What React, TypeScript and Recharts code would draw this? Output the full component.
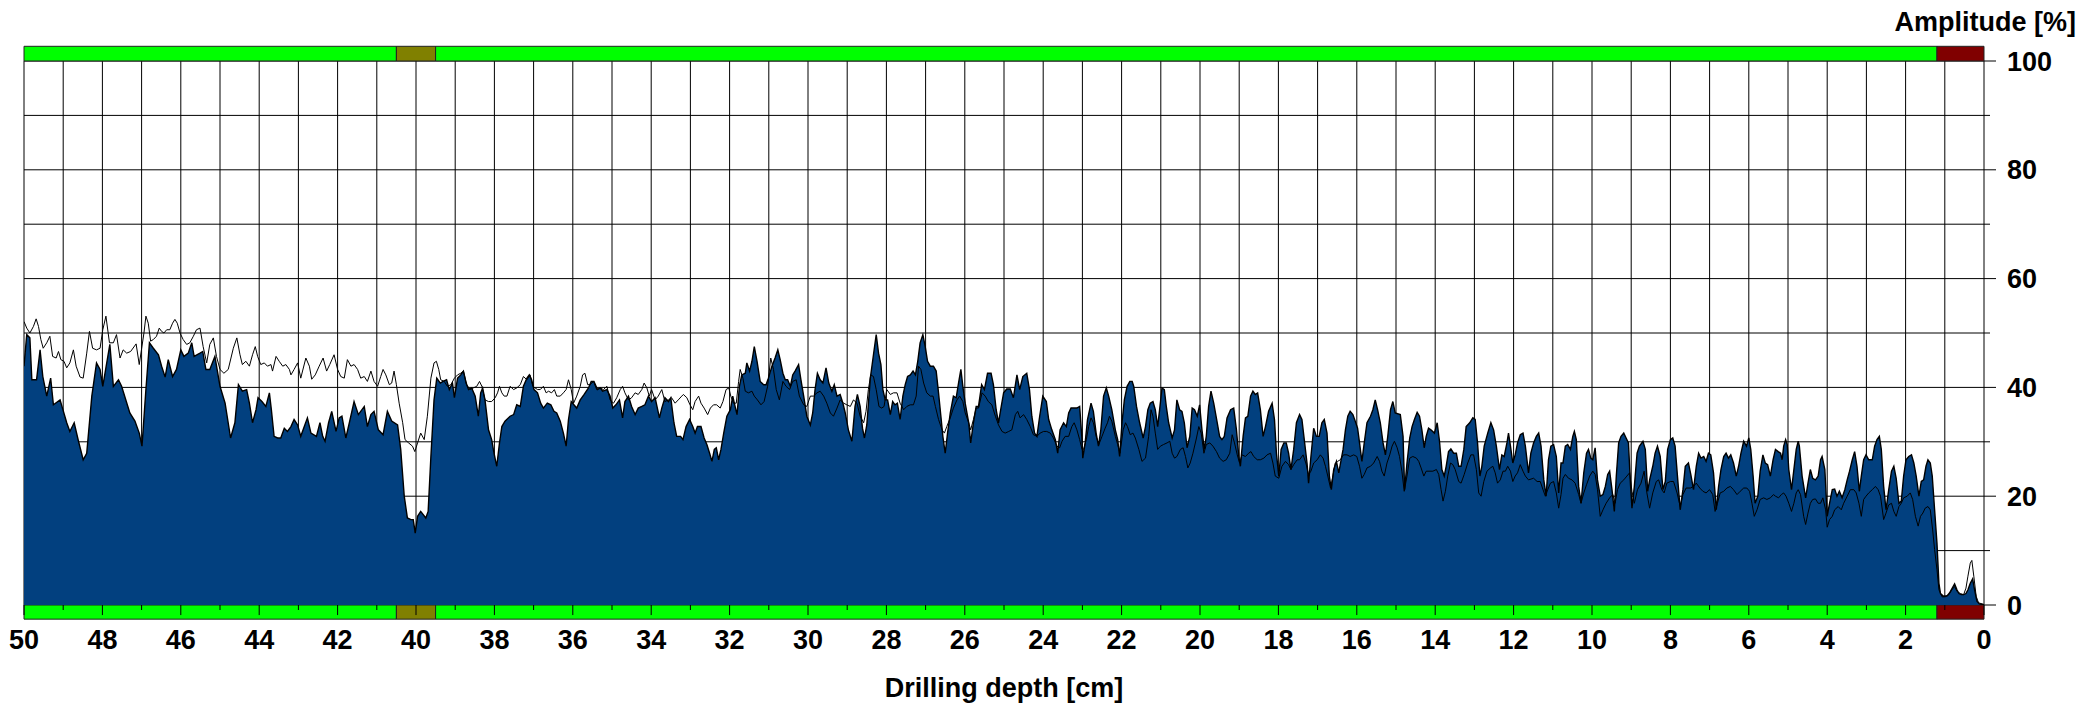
import {
  ComposedChart, Area, Line, XAxis, YAxis, CartesianGrid, ReferenceArea, ReferenceLine,
} from "recharts";

// depth ticks run right-to-left: 50 cm at the left edge, 0 cm at the right
const depthTicks = [
  50, 49, 48, 47, 46, 45, 44, 43, 42, 41, 40, 39, 38, 37, 36, 35, 34, 33, 32, 31, 30,
  29, 28, 27, 26, 25, 24, 23, 22, 21, 20, 19, 18, 17, 16, 15, 14, 13, 12, 11, 10,
  9, 8, 7, 6, 5, 4, 3, 2, 1, 0,
];
const amplitudeTicks = [0, 10, 20, 30, 40, 50, 60, 70, 80, 90, 100];

// drilling amplitude (filled curve): [depth cm, amplitude %]
const drillCurve: [number, number][] = [
  [50.00, 43.9], [49.93, 49.7], [49.85, 49.1], [49.80, 41.4], [49.68, 41.4], [49.59, 46.9], [49.52, 42.0],
  [49.42, 38.4], [49.32, 41.7], [49.25, 36.8], [49.08, 37.7], [48.91, 33.5], [48.83, 31.9], [48.72, 33.5],
  [48.61, 30.1], [48.49, 26.7], [48.40, 27.9], [48.27, 38.4], [48.15, 44.5], [48.06, 43.3], [47.99, 40.2],
  [47.81, 47.9], [47.72, 40.2], [47.59, 41.4], [47.51, 40.2], [47.30, 35.3], [47.17, 33.8], [47.06, 31.6],
  [46.99, 29.2], [46.89, 39.6], [46.80, 48.2], [46.70, 47.2], [46.57, 46.0], [46.49, 43.9], [46.40, 41.9],
  [46.32, 45.1], [46.21, 42.0], [46.11, 43.3], [46.00, 46.9], [45.92, 45.7], [45.81, 46.3], [45.72, 48.2],
  [45.66, 45.7], [45.51, 46.3], [45.44, 46.6], [45.36, 43.3], [45.26, 43.3], [45.13, 45.7], [45.00, 40.2],
  [44.87, 37.1], [44.73, 30.7], [44.62, 33.5], [44.53, 40.5],
  [44.43, 39.3], [44.32, 39.6], [44.25, 37.1], [44.17, 33.5], [44.08, 35.9], [44.03, 38.1], [43.93, 37.4],
  [43.83, 36.5], [43.74, 39.0], [43.69, 35.9], [43.62, 31.0], [43.53, 30.7], [43.45, 30.7], [43.36, 32.5],
  [43.28, 31.9], [43.19, 32.8], [43.11, 34.1], [43.02, 33.1], [42.94, 31.0], [42.85, 32.8], [42.77, 34.4],
  [42.68, 31.6], [42.54, 31.0], [42.45, 33.5], [42.38, 31.0], [42.32, 30.1], [42.23, 33.5], [42.15, 35.6],
  [42.04, 31.9], [41.96, 34.4], [41.89, 34.7], [41.79, 30.7], [41.70, 33.5], [41.58, 37.4], [41.47, 35.0],
  [41.32, 36.5], [41.24, 32.8], [41.15, 35.0], [41.07, 35.6], [40.96, 32.2], [40.84, 31.3], [40.73, 35.6],
  [40.62, 33.8], [40.47, 33.1], [40.39, 28.6], [40.30, 20.0], [40.22, 16.0], [40.13, 15.7], [40.07, 15.7],
  [40.02, 13.2], [39.96, 16.3], [39.88, 17.2], [39.75, 16.0], [39.69, 17.2], [39.62, 27.3], [39.54, 37.7],
  [39.47, 41.7], [39.38, 40.8], [39.31, 41.1], [39.22, 41.4], [39.15, 39.6], [39.07, 40.8], [39.02, 38.1],
  [38.94, 41.7], [38.86, 42.3],
  [38.79, 43.0], [38.72, 40.8], [38.66, 39.6], [38.58, 39.9], [38.49, 38.4], [38.41, 34.7], [38.35, 39.0],
  [38.30, 39.9], [38.24, 37.7], [38.15, 32.2], [38.07, 30.4], [38.01, 27.9], [37.94, 25.5], [37.87, 29.8],
  [37.81, 32.8], [37.73, 33.8], [37.60, 34.7], [37.51, 35.0], [37.43, 36.8], [37.34, 36.5], [37.26, 40.2],
  [37.17, 41.7], [37.11, 42.3], [37.05, 41.4], [36.99, 39.6], [36.90, 39.0], [36.82, 37.1], [36.75, 36.2],
  [36.65, 37.1], [36.56, 36.8], [36.48, 35.6], [36.41, 35.3], [36.32, 33.8], [36.24, 31.6], [36.17, 29.2],
  [36.11, 34.1], [36.04, 37.4], [35.90, 36.2], [35.81, 37.7], [35.71, 38.7], [35.60, 39.9], [35.53, 41.1],
  [35.46, 41.1], [35.37, 39.6], [35.30, 39.9], [35.24, 39.3], [35.13, 39.6], [35.05, 38.4], [34.98, 36.2],
  [34.90, 36.8], [34.81, 37.7], [34.73, 34.4], [34.67, 37.4], [34.58, 38.4], [34.50, 36.5], [34.41, 35.0],
  [34.33, 36.2], [34.24, 36.5], [34.16, 36.8], [34.07, 38.4], [33.99, 37.4], [33.90, 38.1], [33.79, 34.4],
  [33.73, 36.2], [33.65, 38.1], [33.56, 37.4], [33.50, 38.1], [33.42, 33.5], [33.35, 31.0], [33.25, 31.0],
  [33.19, 30.4], [33.11, 32.8], [33.02, 34.1], [32.94, 32.8], [32.88, 31.6], [32.82, 32.8], [32.73, 32.8],
  [32.65, 30.7], [32.58, 29.5], [32.51, 27.9], [32.45, 26.4], [32.39, 28.6], [32.34, 28.9], [32.28, 26.7],
  [32.22, 28.6], [32.15, 31.6], [32.07, 34.7], [31.98, 35.9], [31.92, 38.4], [31.86, 36.5], [31.81, 35.0],
  [31.75, 40.2], [31.69, 42.3], [31.60, 42.6], [31.56, 44.5], [31.49, 43.0], [31.43, 44.8], [31.37, 47.5],
  [31.30, 44.8], [31.22, 41.1], [31.13, 40.5], [31.07, 40.5], [31.01, 41.7], [30.92, 43.9], [30.84, 45.4],
  [30.77, 46.9], [30.71, 45.1], [30.64, 42.6], [30.58, 41.4], [30.52, 41.4], [30.45, 40.2], [30.39, 42.3],
  [30.33, 43.0], [30.24, 44.2], [30.18, 41.4], [30.11, 38.4], [30.03, 34.7], [29.94, 33.1], [29.88, 35.3],
  [29.82, 39.6], [29.76, 42.6], [29.69, 41.4], [29.62, 40.8], [29.54, 43.6], [29.47, 40.8], [29.39, 39.3],
  [29.33, 40.5], [29.26, 38.4], [29.18, 38.7], [29.11, 37.1], [29.05, 35.3], [28.97, 32.2], [28.88, 30.1],
  [28.80, 36.5], [28.74, 38.7], [28.67, 36.5], [28.61, 32.5], [28.56, 30.7], [28.50, 33.1], [28.41, 41.7],
  [28.33, 46.0], [28.26, 49.7], [28.20, 46.3], [28.14, 44.2], [28.09, 39.6], [28.03, 37.7], [27.97, 37.7],
  [27.90, 35.0], [27.84, 37.4], [27.78, 36.8], [27.72, 37.1], [27.65, 34.1],
  [27.58, 38.4], [27.52, 40.5], [27.46, 42.0], [27.39, 42.3], [27.32, 43.0], [27.26, 42.3], [27.20, 44.8],
  [27.14, 48.2], [27.07, 49.7], [27.01, 47.5], [26.95, 44.8], [26.88, 43.9], [26.80, 43.9], [26.73, 43.0],
  [26.67, 39.0], [26.61, 34.7], [26.56, 31.0], [26.50, 27.9], [26.44, 31.6], [26.37, 35.3], [26.29, 38.4],
  [26.22, 38.1], [26.16, 40.8], [26.10, 43.3], [26.05, 40.2], [25.99, 37.1], [25.90, 33.5], [25.85, 29.8],
  [25.78, 33.5], [25.71, 36.5], [25.65, 36.5], [25.57, 40.5], [25.50, 39.6], [25.42, 42.6], [25.33, 42.6],
  [25.27, 40.5], [25.20, 35.9], [25.14, 33.5], [25.07, 36.5], [25.01, 39.0], [24.93, 39.7], [24.84, 39.7],
  [24.76, 38.1], [24.67, 42.3], [24.60, 39.6], [24.52, 42.0], [24.42, 42.6], [24.35, 39.6], [24.29, 34.7],
  [24.22, 31.6], [24.16, 31.0], [24.09, 34.7], [24.01, 38.4], [23.92, 37.4], [23.86, 34.1], [23.78, 32.2],
  [23.69, 30.4], [23.63, 27.9], [23.57, 32.2], [23.48, 33.5], [23.41, 32.8], [23.35, 35.3], [23.29, 36.2],
  [23.14, 36.2], [23.07, 36.5], [23.01, 30.4], [22.99, 27.0], [22.93, 29.8], [22.87, 34.1], [22.78, 37.1],
  [22.72, 35.6], [22.65, 31.6], [22.59, 29.2], [22.53, 32.2], [22.46, 38.4], [22.39, 39.9], [22.33, 38.4],
  [22.25, 35.9], [22.16, 32.2], [22.10, 30.4], [22.05, 27.3],
  [21.99, 33.5], [21.93, 37.7], [21.86, 40.2], [21.79, 41.1], [21.73, 41.1], [21.69, 40.2], [21.62, 36.5],
  [21.54, 33.5], [21.45, 30.7], [21.39, 32.8], [21.33, 35.9], [21.27, 37.1], [21.20, 37.4], [21.14, 35.9],
  [21.08, 32.8], [21.03, 35.9], [20.97, 39.9], [20.91, 39.6], [20.86, 36.5], [20.80, 33.5], [20.71, 30.7],
  [20.65, 32.2], [20.59, 37.7], [20.52, 35.9], [20.46, 35.6], [20.40, 33.5], [20.33, 28.9], [20.26, 31.0],
  [20.20, 36.2], [20.14, 35.9], [20.07, 34.7], [20.01, 36.8], [19.95, 32.2], [19.89, 28.6], [19.84, 31.0],
  [19.78, 36.5], [19.72, 39.3], [19.65, 37.1], [19.56, 33.5], [19.50, 31.0], [19.44, 30.4], [19.38, 31.0],
  [19.31, 34.4], [19.22, 35.9], [19.14, 36.2], [19.07, 32.2], [19.01, 27.3], [18.97, 25.5], [18.90, 31.0],
  [18.84, 34.4], [18.78, 34.7], [18.71, 38.4], [18.65, 39.3], [18.59, 38.7], [18.53, 39.0], [18.46, 35.9],
  [18.39, 31.0], [18.33, 32.8], [18.25, 35.6], [18.16, 37.1], [18.10, 34.1], [18.05, 27.9], [17.99, 23.7],
  [17.93, 28.6], [17.86, 29.8], [17.80, 29.8], [17.74, 27.9], [17.68, 24.9], [17.61, 28.6], [17.54, 33.5],
  [17.46, 35.0], [17.40, 34.1], [17.34, 30.4], [17.27, 26.1], [17.23, 22.4], [17.17, 27.3], [17.10, 32.5],
  [17.03, 31.0], [16.96, 31.0], [16.89, 33.5], [16.83, 34.1], [16.76, 31.6], [16.70, 23.7], [16.65, 21.2],
  [16.59, 24.9], [16.52, 26.4], [16.46, 24.3], [16.40, 26.7],
  [16.35, 28.6], [16.29, 32.2], [16.23, 34.7], [16.17, 35.6], [16.10, 35.0], [16.04, 33.8], [15.98, 32.5],
  [15.93, 29.8], [15.87, 26.4], [15.81, 29.8], [15.74, 33.5], [15.65, 34.7], [15.59, 35.9], [15.53, 37.7],
  [15.47, 35.9], [15.40, 33.5], [15.33, 29.8], [15.27, 27.6], [15.21, 31.0], [15.14, 35.9], [15.08, 37.4],
  [15.02, 35.3], [14.89, 35.0], [14.82, 31.0], [14.78, 21.2], [14.72, 26.1], [14.65, 30.7], [14.59, 32.8],
  [14.53, 34.1], [14.46, 35.4], [14.40, 34.7], [14.34, 32.2], [14.28, 28.9], [14.23, 31.0], [14.17, 32.5],
  [14.11, 32.2], [14.02, 31.6], [13.95, 33.5], [13.89, 30.1], [13.83, 24.9], [13.77, 23.7], [13.72, 25.5],
  [13.66, 28.2], [13.60, 28.7], [13.53, 27.9], [13.46, 27.9], [13.40, 25.5], [13.34, 25.5], [13.27, 28.6],
  [13.21, 32.8], [13.12, 33.5], [13.04, 34.4], [12.98, 34.1], [12.92, 29.8], [12.86, 23.7], [12.81, 25.5],
  [12.75, 29.2], [12.66, 31.6], [12.58, 33.5], [12.51, 32.2], [12.44, 29.2], [12.36, 24.9], [12.30, 27.6],
  [12.24, 27.3], [12.17, 29.8], [12.13, 31.6], [12.08, 29.2], [12.02, 26.1], [11.96, 27.6], [11.90, 29.8],
  [11.83, 31.3], [11.76, 31.6], [11.70, 29.2], [11.62, 24.3], [11.56, 27.9], [11.49, 29.8], [11.42, 31.0],
  [11.36, 31.6], [11.30, 29.2], [11.23, 23.0], [11.17, 20.0], [11.11, 26.7], [11.05, 29.2], [10.98, 29.5],
  [10.91, 27.3], [10.85, 20.6], [10.79, 26.1],
  [10.74, 26.1], [10.68, 29.2], [10.62, 29.5], [10.55, 28.6], [10.49, 31.0], [10.45, 31.9], [10.40, 30.4],
  [10.34, 21.8], [10.28, 18.7], [10.21, 24.3], [10.14, 27.9], [10.09, 28.6], [10.03, 27.0], [9.98, 26.7],
  [9.92, 28.9], [9.86, 23.0], [9.79, 20.0], [9.72, 20.3], [9.66, 21.8], [9.60, 24.0], [9.55, 24.6],
  [9.49, 21.2], [9.43, 17.2], [9.38, 23.7], [9.32, 29.8], [9.26, 31.0], [9.19, 31.6], [9.13, 30.7],
  [9.07, 29.8], [9.02, 22.4], [8.98, 17.8], [8.92, 21.8], [8.85, 27.9], [8.79, 29.2], [8.70, 30.1],
  [8.64, 28.6], [8.58, 20.9], [8.53, 23.0], [8.45, 25.5], [8.39, 27.9], [8.33, 29.2], [8.26, 27.3],
  [8.19, 21.2], [8.13, 22.7], [8.07, 28.6], [8.00, 30.4], [7.94, 30.7], [7.88, 29.2], [7.82, 23.7],
  [7.75, 17.5], [7.68, 21.2], [7.62, 25.5], [7.54, 26.1], [7.48, 24.0], [7.41, 21.2], [7.34, 25.5],
  [7.28, 27.9], [7.22, 27.0], [7.15, 27.3], [7.09, 26.4], [7.03, 27.9], [6.97, 27.6], [6.90, 24.3],
  [6.83, 17.5], [6.77, 21.8], [6.71, 24.9], [6.64, 27.3], [6.58, 27.9], [6.52, 27.0], [6.46, 27.6],
  [6.39, 26.1], [6.32, 23.7], [6.26, 25.5], [6.20, 27.9], [6.13, 30.1], [6.06, 29.2], [6.00, 30.7],
  [5.95, 28.6], [5.89, 23.7], [5.84, 18.7], [5.77, 20.0], [5.71, 24.6], [5.64, 27.6], [5.58, 26.1],
  [5.52, 25.8], [5.45, 23.7], [5.38, 26.7],
  [5.32, 28.6], [5.25, 28.2], [5.19, 27.9], [5.15, 26.7], [5.11, 29.2], [5.06, 30.4], [5.02, 29.5],
  [4.98, 24.9], [4.91, 21.2], [4.85, 24.9], [4.79, 28.6], [4.74, 30.1], [4.71, 29.2], [4.64, 23.7],
  [4.55, 19.7], [4.49, 22.4], [4.43, 24.9], [4.37, 23.3], [4.30, 23.0], [4.23, 23.7], [4.17, 26.7],
  [4.13, 27.3], [4.06, 24.9], [4.00, 16.3], [3.94, 18.7], [3.87, 21.2], [3.81, 21.3], [3.75, 20.0],
  [3.69, 20.9], [3.62, 19.7], [3.55, 21.2], [3.49, 23.0], [3.43, 24.6], [3.36, 26.7], [3.30, 28.2],
  [3.24, 25.5], [3.18, 20.9], [3.13, 23.7], [3.07, 26.7], [3.01, 27.6], [2.94, 26.7], [2.85, 26.7],
  [2.79, 29.2], [2.73, 30.4], [2.67, 31.0], [2.62, 28.6], [2.56, 21.8], [2.50, 17.5], [2.43, 21.2],
  [2.36, 24.6], [2.30, 25.5], [2.24, 23.3], [2.17, 18.7], [2.11, 19.1], [2.05, 23.7], [1.99, 26.7],
  [1.92, 27.3], [1.85, 27.6], [1.79, 26.1], [1.73, 23.7], [1.66, 20.0], [1.60, 22.7], [1.54, 23.0],
  [1.48, 25.5], [1.43, 26.7], [1.37, 26.1], [1.32, 23.7], [1.26, 17.5], [1.20, 11.4], [1.15, 4.0],
  [1.11, 2.1], [1.03, 1.6], [0.94, 1.7], [0.88, 2.2], [0.81, 3.1], [0.75, 3.9], [0.69, 2.8], [0.64, 2.1],
  [0.58, 1.9], [0.52, 1.9], [0.46, 2.1], [0.41, 2.8], [0.35, 4.0], [0.29, 4.8], [0.24, 2.8], [0.18, 0.7],
  [0.12, 0.2], [0.05, 0.1], [0, 0],
];

// feed amplitude (thin line): [depth cm, amplitude %]
const feedCurve: [number, number][] = [
  [50.00, 52.1], [49.93, 50.9], [49.85, 50.0], [49.76, 51.2], [49.69, 52.6], [49.63, 51.2], [49.57, 48.8],
  [49.51, 47.2], [49.42, 48.2], [49.34, 49.4], [49.27, 45.7], [49.18, 45.4], [49.12, 46.6], [49.06, 45.1],
  [48.98, 44.8], [48.91, 43.6], [48.83, 44.5], [48.74, 46.9], [48.67, 43.9], [48.57, 41.9], [48.49, 41.7],
  [48.40, 46.3], [48.33, 50.3], [48.25, 47.2], [48.15, 46.9], [48.06, 47.2], [47.99, 50.6], [47.91, 53.1],
  [47.82, 48.2], [47.72, 48.2], [47.64, 49.7], [47.55, 45.4], [47.47, 46.9], [47.38, 46.3], [47.28, 46.6],
  [47.14, 48.0], [47.06, 44.2], [46.94, 50.0], [46.89, 53.1], [46.83, 51.8], [46.77, 48.5], [46.70, 48.8],
  [46.62, 49.4], [46.55, 50.9], [46.49, 50.3], [46.43, 50.0], [46.36, 50.6], [46.28, 50.6], [46.21, 51.8],
  [46.15, 52.5], [46.09, 51.8], [46.02, 50.0], [45.94, 48.8], [45.85, 47.9], [45.77, 48.2], [45.68, 49.4],
  [45.60, 50.6], [45.51, 50.9], [45.43, 47.5], [45.34, 44.5], [45.26, 47.9], [45.17, 49.1], [45.09, 45.7],
  [45.00, 43.3], [44.90, 42.6], [44.79, 43.3], [44.66, 47.2], [44.57, 49.1], [44.49, 46.0],
  [44.43, 44.2], [44.34, 44.8], [44.25, 43.9], [44.17, 46.0], [44.10, 47.5], [44.04, 45.7], [43.96, 44.2],
  [43.87, 44.5], [43.79, 43.9], [43.70, 44.2], [43.66, 43.0], [43.57, 45.7], [43.49, 44.8], [43.40, 43.9],
  [43.32, 44.2], [43.23, 43.3], [43.19, 42.3], [43.11, 43.3], [43.02, 44.5], [42.94, 41.7], [42.81, 45.4],
  [42.72, 43.9], [42.66, 41.5], [42.57, 42.3], [42.47, 43.9], [42.37, 45.4], [42.28, 43.0], [42.20, 44.2],
  [42.09, 46.0], [42.00, 43.3], [41.92, 42.0], [41.83, 41.7], [41.75, 45.1], [41.66, 43.9], [41.58, 44.2],
  [41.49, 43.3], [41.41, 41.7], [41.32, 42.0], [41.24, 41.1], [41.15, 43.0], [41.07, 41.1], [40.98, 40.2],
  [40.90, 42.0], [40.84, 43.3], [40.77, 42.3], [40.68, 40.5], [40.62, 40.8], [40.56, 43.0], [40.50, 40.5],
  [40.43, 37.1], [40.34, 33.5], [40.28, 30.4], [40.19, 29.8], [40.09, 29.2], [40.03, 28.2], [39.96, 29.8],
  [39.88, 31.6], [39.79, 30.4], [39.71, 34.7], [39.62, 41.7], [39.54, 44.5], [39.48, 44.8], [39.42, 43.3],
  [39.37, 41.4], [39.28, 41.1], [39.20, 40.2], [39.11, 40.5], [39.02, 41.7], [38.94, 42.3], [38.86, 42.6],
  [38.79, 43.0], [38.71, 40.5], [38.62, 39.6], [38.54, 39.9], [38.45, 40.2], [38.38, 41.1], [38.32, 40.2],
  [38.24, 37.7], [38.15, 37.4], [38.07, 37.4], [37.98, 38.1], [37.92, 39.0], [37.87, 40.2], [37.81, 39.0],
  [37.75, 38.4], [37.68, 38.4], [37.60, 40.2], [37.51, 39.6], [37.43, 39.9], [37.34, 40.5], [37.26, 42.0],
  [37.17, 41.4], [37.09, 42.3], [37.02, 40.2], [36.90, 39.6], [36.83, 39.6], [36.75, 40.2], [36.68, 39.0],
  [36.62, 39.3], [36.54, 39.0], [36.47, 39.6], [36.41, 38.4], [36.32, 38.4], [36.24, 39.0], [36.17, 39.6],
  [36.11, 41.4], [36.04, 39.6], [35.98, 37.1], [35.90, 38.4], [35.81, 40.2], [35.75, 42.3], [35.69, 42.6],
  [35.62, 40.5], [35.56, 40.5], [35.47, 41.1], [35.39, 39.6], [35.30, 39.9], [35.22, 39.6], [35.13, 40.2],
  [35.05, 37.7], [34.96, 37.1], [34.88, 38.1], [34.79, 39.6], [34.73, 40.2], [34.67, 39.0], [34.58, 37.7],
  [34.50, 38.1], [34.41, 39.0], [34.33, 38.7], [34.24, 39.6], [34.18, 40.8], [34.11, 39.9], [34.05, 38.4],
  [33.99, 39.6], [33.90, 37.7], [33.82, 38.4], [33.73, 39.6], [33.65, 37.4], [33.56, 37.7], [33.48, 38.1],
  [33.39, 37.1], [33.31, 37.7], [33.22, 38.4],
  [33.18, 38.7], [33.09, 38.1], [33.01, 36.8], [32.94, 35.9], [32.88, 37.4], [32.79, 38.4], [32.73, 37.1],
  [32.65, 36.2], [32.56, 35.0], [32.49, 36.2], [32.41, 36.8], [32.33, 36.8], [32.24, 36.2], [32.17, 37.4],
  [32.09, 39.6], [32.02, 39.9], [31.97, 38.4], [31.90, 37.1], [31.83, 37.1], [31.77, 41.1], [31.73, 43.3],
  [31.66, 41.7], [31.60, 39.3], [31.52, 39.0], [31.43, 39.3], [31.37, 38.4], [31.29, 37.7], [31.20, 36.8],
  [31.12, 37.4], [31.03, 40.2], [30.95, 45.4], [30.88, 43.3], [30.81, 39.6], [30.73, 37.7], [30.64, 41.1],
  [30.56, 40.2], [30.47, 39.6], [30.39, 41.1], [30.30, 41.4], [30.22, 38.4], [30.11, 36.8], [30.03, 36.5],
  [29.94, 38.4], [29.86, 38.4], [29.77, 39.0], [29.69, 39.3], [29.60, 38.4], [29.52, 37.1], [29.43, 35.3],
  [29.35, 34.7], [29.26, 36.2], [29.18, 37.7], [29.09, 37.1], [29.01, 36.8], [28.92, 36.5], [28.84, 37.7],
  [28.75, 37.1], [28.67, 34.7], [28.58, 33.5], [28.52, 35.6], [28.46, 39.6], [28.40, 42.3], [28.33, 42.0],
  [28.26, 39.6], [28.19, 36.5], [28.12, 36.2], [28.06, 36.5], [27.99, 39.6], [27.90, 38.7], [27.82, 39.0],
  [27.73, 39.0], [27.65, 37.1],
  [27.56, 35.9], [27.48, 36.5], [27.39, 36.8], [27.31, 36.8], [27.24, 38.4], [27.18, 43.9], [27.12, 43.3],
  [27.05, 40.8], [26.97, 39.0], [26.88, 38.4], [26.81, 38.4], [26.75, 36.5], [26.67, 34.1], [26.58, 32.2],
  [26.52, 31.6], [26.46, 32.8], [26.37, 34.4], [26.29, 36.2], [26.20, 37.7], [26.13, 38.4], [26.05, 37.4],
  [25.99, 35.3], [25.90, 33.5], [25.85, 32.2], [25.78, 34.1], [25.71, 36.2], [25.65, 36.2], [25.56, 39.0],
  [25.48, 38.4], [25.40, 37.4], [25.31, 36.8], [25.22, 34.7], [25.14, 33.1], [25.05, 31.9], [24.97, 31.6],
  [24.88, 31.9], [24.80, 32.2], [24.71, 35.0], [24.65, 35.6], [24.59, 34.4], [24.50, 35.0], [24.42, 34.1],
  [24.33, 32.8], [24.25, 31.3], [24.16, 31.0], [24.08, 31.6], [23.99, 31.9], [23.91, 31.9], [23.82, 31.6],
  [23.74, 30.7], [23.65, 29.2], [23.58, 28.9], [23.52, 30.1], [23.44, 31.0], [23.35, 31.0], [23.27, 32.8],
  [23.21, 33.5], [23.14, 32.2], [23.07, 30.4], [23.01, 28.6], [22.97, 28.6], [22.90, 30.4], [22.84, 32.8],
  [22.78, 34.4], [22.72, 33.5], [22.65, 31.0], [22.58, 29.5], [22.50, 31.0], [22.42, 32.5], [22.36, 33.5],
  [22.31, 34.7], [22.25, 33.8], [22.16, 31.0], [22.10, 29.5], [22.04, 27.9],
  [21.96, 32.2], [21.90, 33.5], [21.85, 32.8], [21.78, 31.3], [21.71, 31.6], [21.65, 30.7], [21.56, 28.6],
  [21.48, 26.4], [21.39, 27.0], [21.31, 31.0], [21.25, 35.9], [21.20, 34.7], [21.14, 31.6], [21.08, 28.6],
  [21.01, 29.2], [20.93, 29.5], [20.84, 29.8], [20.77, 30.1], [20.71, 27.9], [20.65, 27.0], [20.59, 27.3],
  [20.50, 28.6], [20.43, 28.9], [20.37, 27.3], [20.31, 25.2], [20.25, 26.1], [20.18, 27.9], [20.09, 30.7],
  [20.03, 32.8], [19.97, 31.6], [19.90, 27.9], [19.84, 29.5], [19.75, 29.8], [19.67, 29.2], [19.58, 28.2],
  [19.50, 27.0], [19.41, 26.4], [19.33, 26.7], [19.24, 27.9], [19.18, 31.3], [19.12, 29.8], [19.05, 27.6],
  [18.99, 26.1], [18.93, 27.6], [18.84, 27.3], [18.76, 27.9], [18.70, 28.2], [18.63, 27.3], [18.54, 26.7],
  [18.46, 26.7], [18.37, 27.0], [18.29, 27.6], [18.20, 27.9], [18.14, 26.1], [18.08, 23.7], [17.99, 23.3],
  [17.91, 25.5], [17.82, 26.4], [17.74, 25.8], [17.68, 24.9], [17.61, 25.8], [17.52, 26.7], [17.46, 26.7],
  [17.37, 27.6], [17.30, 26.1], [17.23, 24.0], [17.17, 24.6], [17.10, 26.1], [17.01, 26.7], [16.93, 27.6],
  [16.86, 27.0], [16.80, 25.5], [16.74, 23.7], [16.67, 21.5], [16.61, 23.7], [16.55, 26.1], [16.49, 26.4],
  [16.42, 26.7],
  [16.34, 27.6], [16.25, 27.6], [16.17, 27.3], [16.08, 27.6], [16.00, 27.3], [15.93, 25.5], [15.87, 23.3],
  [15.81, 24.0], [15.74, 25.2], [15.65, 25.5], [15.57, 26.1], [15.48, 27.3], [15.42, 26.4], [15.36, 24.6],
  [15.30, 23.7], [15.23, 26.1], [15.16, 27.6], [15.10, 29.2], [15.04, 30.1], [14.97, 28.9], [14.91, 27.3],
  [14.85, 24.6], [14.79, 20.9], [14.72, 23.7], [14.65, 27.0], [14.57, 27.3], [14.48, 27.0], [14.42, 26.4],
  [14.36, 25.2], [14.29, 23.7], [14.23, 24.6], [14.06, 24.6], [13.97, 24.9], [13.91, 24.0], [13.85, 21.2],
  [13.80, 19.1], [13.74, 20.9], [13.68, 23.7], [13.61, 26.1], [13.55, 25.8], [13.49, 24.9], [13.40, 22.7],
  [13.34, 22.4], [13.26, 24.0], [13.17, 26.1], [13.09, 27.6], [13.02, 27.6], [12.95, 24.9], [12.89, 20.6],
  [12.83, 20.0], [12.76, 22.7], [12.68, 24.6], [12.59, 25.2], [12.53, 25.5], [12.47, 24.3], [12.41, 22.4],
  [12.34, 23.0], [12.27, 24.6], [12.21, 24.6], [12.15, 25.5], [12.08, 24.6], [12.02, 22.7], [11.96, 23.7],
  [11.90, 24.3], [11.83, 25.8], [11.76, 24.6], [11.70, 23.7], [11.62, 23.0], [11.49, 23.3], [11.40, 22.7],
  [11.32, 22.7], [11.25, 21.2], [11.19, 20.0], [11.13, 21.2], [11.06, 22.4], [10.98, 22.7], [10.91, 20.6],
  [10.85, 17.8], [10.79, 20.3],
  [10.74, 23.3], [10.68, 24.0], [10.60, 23.3], [10.51, 23.0], [10.43, 22.4], [10.34, 20.3], [10.28, 18.7],
  [10.21, 20.6], [10.14, 22.1], [10.06, 23.7], [9.98, 24.6], [9.92, 24.0], [9.86, 21.2], [9.79, 16.3],
  [9.72, 17.5], [9.64, 18.7], [9.55, 19.7], [9.47, 20.3], [9.41, 18.7], [9.35, 21.2], [9.28, 22.4],
  [9.19, 23.0], [9.11, 23.7], [9.04, 24.3], [8.98, 20.9], [8.92, 18.7], [8.84, 21.2], [8.75, 22.4],
  [8.67, 24.6], [8.60, 20.6], [8.53, 17.8], [8.45, 20.6], [8.36, 22.7], [8.30, 23.0], [8.22, 21.2],
  [8.16, 20.6], [8.09, 22.4], [8.00, 22.7], [7.92, 22.7], [7.83, 20.6], [7.75, 18.1], [7.68, 20.3],
  [7.60, 21.5], [7.49, 21.5], [7.41, 21.8], [7.34, 22.4], [7.25, 21.5], [7.17, 20.9], [7.09, 20.6],
  [7.00, 21.2], [6.92, 20.3], [6.86, 17.2], [6.80, 18.7], [6.73, 20.6], [6.64, 20.9], [6.56, 21.5],
  [6.47, 21.8], [6.39, 21.2], [6.30, 20.3], [6.22, 20.9], [6.13, 21.5], [6.05, 21.5], [5.98, 20.9],
  [5.92, 18.7], [5.86, 16.3], [5.79, 17.5], [5.71, 19.4], [5.62, 19.7], [5.54, 19.4], [5.45, 19.7],
  [5.37, 20.3],
  [5.32, 20.0], [5.24, 19.7], [5.17, 20.3], [5.11, 20.6], [5.05, 20.0], [4.98, 18.7], [4.91, 17.2],
  [4.85, 18.7], [4.79, 20.6], [4.74, 21.2], [4.68, 20.3], [4.60, 16.3], [4.55, 14.8], [4.49, 16.9],
  [4.43, 18.7], [4.37, 19.4], [4.30, 19.5], [4.23, 18.7], [4.17, 18.7], [4.11, 19.7], [4.04, 17.5],
  [4.00, 14.3], [3.94, 15.7], [3.87, 16.3], [3.81, 17.5], [3.72, 18.1], [3.64, 17.5], [3.58, 18.7],
  [3.49, 20.0], [3.41, 21.2], [3.32, 21.2], [3.26, 20.6], [3.19, 18.7], [3.13, 16.3], [3.07, 19.4],
  [3.01, 20.0], [2.94, 20.6], [2.85, 21.2], [2.77, 21.8], [2.70, 21.2], [2.64, 20.0], [2.56, 15.7],
  [2.50, 16.9], [2.43, 18.4], [2.36, 18.7], [2.30, 17.2], [2.24, 16.3], [2.17, 18.1], [2.11, 18.7],
  [2.05, 19.7], [1.96, 20.0], [1.88, 20.6], [1.82, 19.4], [1.75, 16.3], [1.68, 14.5], [1.62, 16.3],
  [1.56, 16.9], [1.50, 17.8], [1.43, 18.1], [1.37, 17.5], [1.31, 13.8], [1.26, 10.2], [1.20, 6.5],
  [1.15, 2.8], [1.07, 1.5], [0.99, 1.5], [0.90, 1.9], [0.82, 2.8], [0.75, 3.4], [0.69, 2.5], [0.60, 2.1],
  [0.52, 1.9], [0.46, 3.1], [0.41, 5.3], [0.35, 7.7], [0.31, 8.2], [0.26, 5.3], [0.20, 1.6], [0.14, 0.4],
  [0, 0.1],
];

// status strip along the depth axis (drawn above and below the plot)
const bandFrom = [50, 40.5, 39.5, 1.2];
const bandTo = [40.5, 39.5, 1.2, 0];
const bandStatus = ["ok", "warn", "ok", "end"];

const STATUS_COLOR: Record<string, string> = { ok: "#00ff00", warn: "#808000", end: "#800000" };
const FONT = "'Liberation Sans', Arial, Helvetica, sans-serif";
const BLUE = "#02407f";

const drillData = drillCurve.map(([d, v]) => ({ d, v }));
const feedData = feedCurve.map(([d, v]) => ({ d, v }));

function DepthTick({ x, y, payload }: any) {
  if (payload.value % 2 !== 0) return <g />;
  return (
    <text x={x} y={y + 43.5} textAnchor="middle" fontFamily={FONT} fontWeight={700} fontSize={27} fill="#000">
      {payload.value}
    </text>
  );
}

function AmpTick({ x, y, payload }: any) {
  const major = payload.value % 20 === 0;
  return (
    <g>
      <line x1={x} x2={x + (major ? 12 : 6)} y1={y} y2={y} stroke="#000" strokeWidth={1} />
      {major && (
        <text x={x + 23} y={y + 9.5} textAnchor="start" fontFamily={FONT} fontWeight={700} fontSize={27} fill="#000">
          {payload.value}
        </text>
      )}
    </g>
  );
}

export default function App() {
  return (
    <div style={{ position: "absolute", left: 0, top: 0, width: 2096, height: 705, background: "#fff" }}>
      <ComposedChart width={2096} height={705} margin={{ top: 61, right: 0, bottom: 0, left: 24 }}>
        <CartesianGrid stroke="#000" strokeWidth={1} />
        <XAxis
          dataKey="d" type="number" domain={[0, 50]} reversed allowDataOverflow
          ticks={depthTicks} interval={0} height={100} tickSize={0} tickMargin={0}
          axisLine={false} tickLine={false} tick={<DepthTick />}
          label={{
            value: "Drilling depth [cm]",
            content: ({ viewBox }: any) => (
              <text x={viewBox.x + viewBox.width / 2} y={viewBox.y + 92} textAnchor="middle"
                fontFamily={FONT} fontWeight={700} fontSize={27} fill="#000">Drilling depth [cm]</text>
            ),
          }}
        />
        <YAxis
          orientation="right" type="number" domain={[0, 100]} allowDataOverflow
          ticks={amplitudeTicks} interval={0} width={112} tickSize={0} tickMargin={0}
          axisLine={false} tickLine={false} tick={<AmpTick />}
          label={{
            value: "Amplitude [%]",
            content: ({ viewBox }: any) => (
              <text x={viewBox.x + 92} y={viewBox.y - 30} textAnchor="end"
                fontFamily={FONT} fontWeight={700} fontSize={27} fill="#000">Amplitude [%]</text>
            ),
          }}
        />
        {bandFrom.map((from, i) => (
          <ReferenceArea key={"top" + i} x1={from} x2={bandTo[i]} y1={100} y2={102.7} ifOverflow="visible"
            fill={STATUS_COLOR[bandStatus[i]]} fillOpacity={1} stroke="#222" strokeWidth={1} />
        ))}
        {bandFrom.map((from, i) => (
          <ReferenceArea key={"bot" + i} x1={from} x2={bandTo[i]} y1={-2.6} y2={0} ifOverflow="visible"
            fill={STATUS_COLOR[bandStatus[i]]} fillOpacity={1} stroke="#222" strokeWidth={1} />
        ))}
        {depthTicks.map((d) => (
          <ReferenceLine key={"tick" + d} ifOverflow="visible" stroke="#000" strokeWidth={1}
            segment={[{ x: d, y: 0 }, { x: d, y: d % 2 === 0 ? -1.85 : -0.92 }]} />
        ))}
        <Area data={drillData} dataKey="v" type="linear" fill={BLUE} fillOpacity={1}
          stroke="#000" strokeWidth={1.4} dot={false} activeDot={false} isAnimationActive={false} />
        <Line data={feedData} dataKey="v" type="linear" stroke="#000" strokeWidth={1}
          dot={false} activeDot={false} isAnimationActive={false} />
      </ComposedChart>
    </div>
  );
}
